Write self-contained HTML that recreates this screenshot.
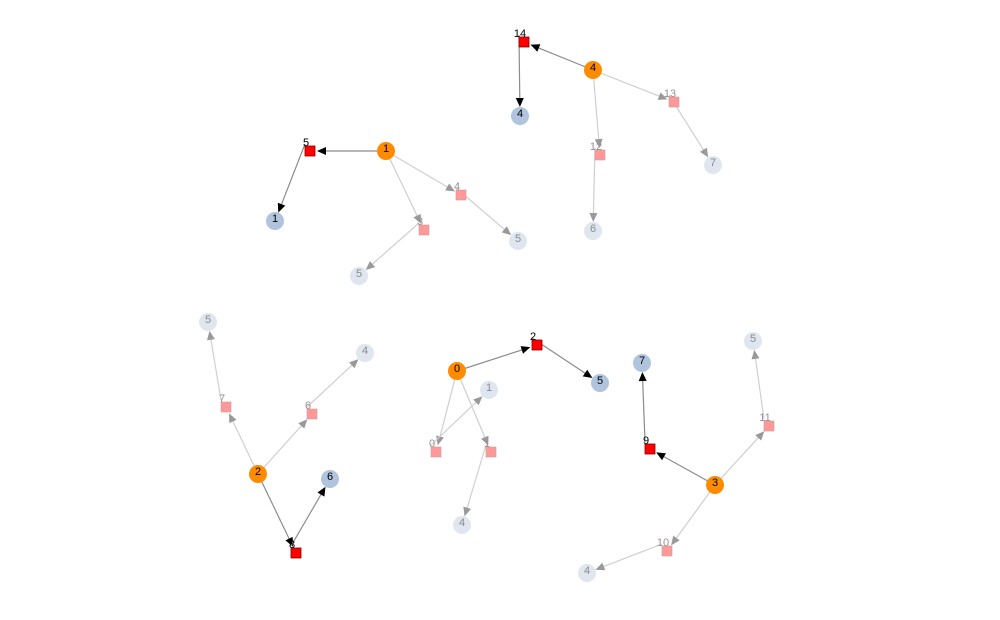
<!DOCTYPE html>
<html><head><meta charset="utf-8"><style>
html,body{margin:0;padding:0;background:#fff;}
svg{display:block;font-family:"Liberation Sans","DejaVu Sans",sans-serif;}
</style></head><body>
<svg id="g" width="1000" height="620" viewBox="0 0 1000 620"></svg>
<script>
// node data: id, label, kind (hub|key|keyleaf|item|leaf), x, y
const nodeIds = ["a4","a14","a4b","a13","a12","a7","a6",
  "b1","b5","b1b","b4","b3","b5a","b5b",
  "c2","c8","c6","c7","c6s","c5","c4",
  "d0","d2","d5","d1","d0s","d1s","d4",
  "e3","e9","e7","e11","e5","e10","e4"];
const nodeLabels = ["4","14","4","13","12","7","6",
  "1","5","1","4","3","5","5",
  "2","8","6","7","6","5","4",
  "0","2","5","1","0","1","4",
  "3","9","7","11","5","10","4"];
const nodeKinds = ["hub","key","keyleaf","item","item","leaf","leaf",
  "hub","key","keyleaf","item","item","leaf","leaf",
  "hub","key","keyleaf","item","item","leaf","leaf",
  "hub","key","keyleaf","leaf","item","item","leaf",
  "hub","key","keyleaf","item","leaf","item","leaf"];
const nodeX = [593,524,520,674,600,713,593, 386,310,275,461,424,518,359, 258,296,330,226,312,208,365, 457,537,600,489,436,491,462, 715,650,642,769,753,667,587];
const nodeY = [70,42,116,102,155,165,231, 151,151,221,195,230,241,276, 474,553,479,407,414,322,353, 371,345,383,390,452,452,525, 485,449,363,426,341,551,573];
const edgeFrom = ["a4","a14","a4","a4","a13","a12", "b1","b5","b1","b1","b4","b3", "c2","c8","c2","c7","c2","c6s", "d0","d2","d0","d0s","d0","d1s", "e3","e9","e3","e11","e3","e10"];
const edgeTo = ["a14","a4b","a13","a12","a7","a6", "b5","b1b","b4","b3","b5a","b5b", "c8","c6","c7","c5","c6s","c4", "d2","d5","d0s","d1","d1s","d4", "e9","e7","e11","e5","e10","e4"];

const svg = document.getElementById('g');
const NS = "http://www.w3.org/2000/svg";
const idx = id => nodeIds.indexOf(id);
function mk(tag, attrs){const e=document.createElementNS(NS,tag);for(const k in attrs)e.setAttribute(k,attrs[k]);return e;}
const isSq = k => k==="key"||k==="item";
const strong = k => k==="key"||k==="keyleaf";

const edgeLayer = mk('g',{});


svg.appendChild(edgeLayer);
for(let i=0;i<edgeFrom.length;i++){
  const s=idx(edgeFrom[i]), t=idx(edgeTo[i]);
  let sx=nodeX[s], sy=nodeY[s];
  if(isSq(nodeKinds[s])){sx-=5;sy-=7;}
  const tx=nodeX[t], ty=nodeY[t];
  const dx=tx-sx, dy=ty-sy, L=Math.hypot(dx,dy), ux=dx/L, uy=dy/L;
  const r = isSq(nodeKinds[t]) ? 7 : 9;
  const ex=tx-ux*r, ey=ty-uy*r;
  const dark = strong(nodeKinds[t]);
  const line = mk('line',{x1:sx,y1:sy,x2:ex-ux*8,y2:ey-uy*8,stroke:dark?"#8c8c8c":"#cfcfcf","stroke-width":1.2});
  
  
  edgeLayer.appendChild(line);
  const bx=ex-ux*9, by=ey-uy*9, px=-uy*4, py=ux*4;
  const head = mk('polygon',{points:`${ex},${ey} ${bx+px},${by+py} ${bx-px},${by-py}`,fill:dark?"#000":"#999"});
  
  
  edgeLayer.appendChild(head);
}
const labelLayer = [];
for(let i=0;i<nodeIds.length;i++){
  const k=nodeKinds[i], x=nodeX[i], y=nodeY[i];
  const g=mk('g',{});
  
  
  let shape, tx=x, ty=y+1, col="#000";
  if(k==="hub") shape=mk('circle',{cx:x,cy:y,r:9,fill:"#ff8c00"});
  else if(k==="keyleaf") shape=mk('circle',{cx:x,cy:y,r:9,fill:"#b0c4de"});
  else if(k==="leaf"){shape=mk('circle',{cx:x,cy:y,r:9,fill:"#dfe6f0"});col="#8a8a8a";}
  else if(k==="key"){shape=mk('rect',{x:x-5,y:y-5,width:10,height:10,fill:"#ff0000",stroke:"#800",'stroke-width':0.8});tx=x-4;ty=y-5;}
  else {shape=mk('rect',{x:x-5,y:y-5,width:10,height:10,fill:"#ff9999",stroke:"#c99",'stroke-width':0.6});tx=x-4;ty=y-5;col="#9a8f8f";}
  g.appendChild(shape);
  svg.appendChild(g);
  const t=mk('text',{x:tx,y:ty,'text-anchor':'middle','font-size':11,fill:col});
  t.textContent=nodeLabels[i];
  
  
  labelLayer.push(t);
}
labelLayer.forEach(t=>svg.appendChild(t));
</script>
</body></html>
